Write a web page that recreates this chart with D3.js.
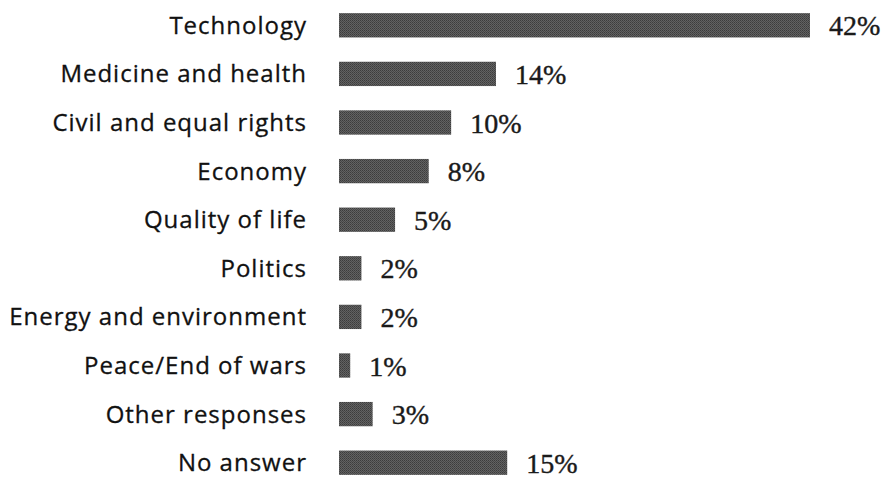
<!DOCTYPE html>
<html>
<head>
<meta charset="utf-8">
<script src="https://cdn.jsdelivr.net/npm/d3@7"></script>
<style>
  body { margin: 0; background: #fff; }
  .cat { font-family: "Open Sans", sans-serif; font-size: 24px; letter-spacing: 1px; fill: #111; stroke: #111; stroke-width: 0.3px; }
  .val { font-family: "Liberation Serif", "DejaVu Serif", serif; font-size: 28px; fill: #1a1a1a; stroke: #1a1a1a; stroke-width: 0.4px; }
</style>
</head>
<body>
<div id="chart"></div>
<script>
// data
const categories = ["Technology", "Medicine and health", "Civil and equal rights", "Economy",
  "Quality of life", "Politics", "Energy and environment", "Peace/End of wars",
  "Other responses", "No answer"];
const values = [42, 14, 10, 8, 5, 2, 2, 1, 3, 15];
const valueLabels = ["42%", "14%", "10%", "8%", "5%", "2%", "2%", "1%", "3%", "15%"];

const w = 891, h = 482;
const barLeft = 339;

const svg = d3.select("#chart").append("svg")
  .attr("width", w).attr("height", h);

// halftone-ish texture for the bars
const pat = svg.append("defs").append("pattern")
  .attr("id", "dots").attr("width", 2).attr("height", 2)
  .attr("patternUnits", "userSpaceOnUse");
pat.append("rect").attr("width", 2).attr("height", 2).attr("fill", "#626262");
pat.append("rect").attr("width", 1).attr("height", 1).attr("fill", "#3c3c3c");
pat.append("rect").attr("x", 1).attr("y", 1).attr("width", 1).attr("height", 1).attr("fill", "#484848");

const xScale = d3.scaleLinear().domain([0, 42]).range([barLeft, 810]);
const yScale = d3.scaleBand().domain(categories).range([1, 487])
  .paddingInner(0.5).paddingOuter(0.25);

const rows = svg.selectAll("g.row")
  .data(categories)
  .enter().append("g")
  .attr("class", "row");

rows.append("rect")
  .attr("x", xScale(0))
  .attr("y", d => yScale(d))
  .attr("width", (d, i) => xScale(values[i]) - xScale(0))
  .attr("height", yScale.bandwidth())
  .attr("fill", "url(#dots)");

rows.append("text")
  .attr("class", "cat")
  .attr("x", 307)
  .attr("y", d => yScale(d) + yScale.bandwidth() / 2)
  .attr("dy", "0.35em")
  .attr("text-anchor", "end")
  .text(d => d);

rows.append("text")
  .attr("class", "val")
  .attr("x", (d, i) => xScale(values[i]) + 19)
  .attr("y", d => yScale(d) + yScale.bandwidth() / 2)
  .attr("dy", "0.36em")
  .text((d, i) => valueLabels[i]);
</script>
</body>
</html>
